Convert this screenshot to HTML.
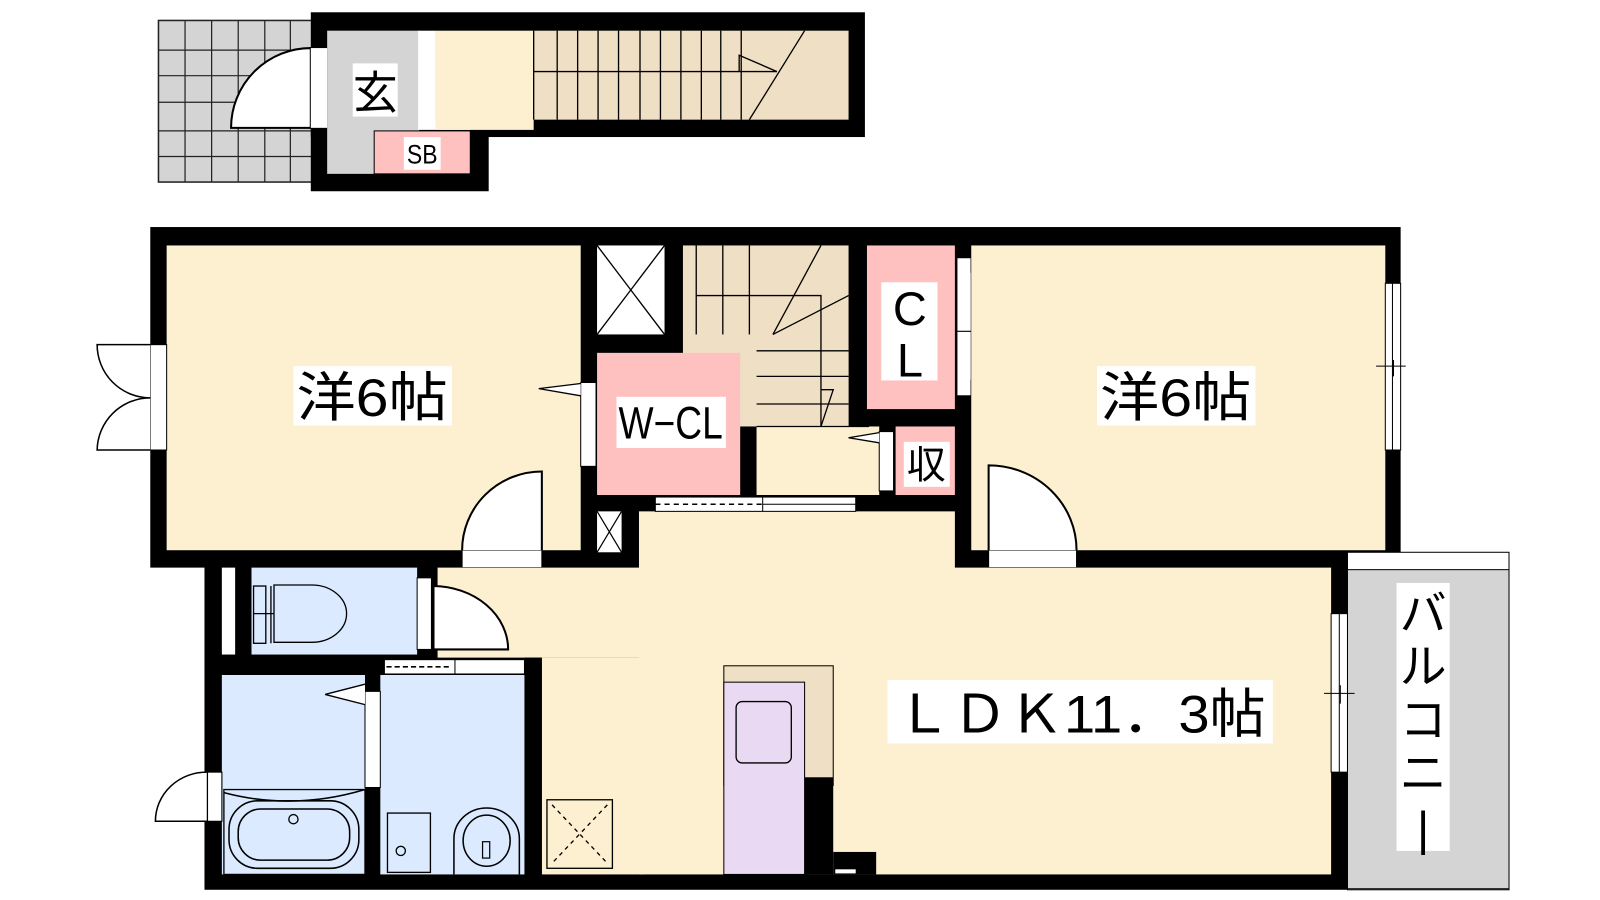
<!DOCTYPE html>
<html><head><meta charset="utf-8"><style>
html,body{margin:0;padding:0;background:#fff;width:1600px;height:900px;overflow:hidden}
text{font-family:"Liberation Sans","Noto Sans CJK JP",sans-serif;fill:#000}
</style></head><body>
<svg width="1600" height="900" viewBox="0 0 1565 880" preserveAspectRatio="none" xmlns="http://www.w3.org/2000/svg">
<!-- tile grid -->
<g>
<rect x="155" y="20" width="150" height="158" fill="#d4d4d4" stroke="#222" stroke-width="1.5"/>
<g stroke="#222" stroke-width="1.2">
<line x1="181" y1="20" x2="181" y2="178"/><line x1="207" y1="20" x2="207" y2="178"/><line x1="233" y1="20" x2="233" y2="178"/><line x1="259" y1="20" x2="259" y2="178"/><line x1="284" y1="20" x2="284" y2="178"/>
<line x1="155" y1="49" x2="305" y2="49"/><line x1="155" y1="74" x2="305" y2="74"/><line x1="155" y1="100" x2="305" y2="100"/><line x1="155" y1="128" x2="305" y2="128"/><line x1="155" y1="153" x2="305" y2="153"/>
</g>
<path d="M304 125 L226 125 A78 78 0 0 1 304 47 Z" fill="#fff" stroke="#000" stroke-width="2"/>
</g>
<!-- top block -->
<rect x="304" y="12" width="542" height="122" fill="#000"/>
<rect x="304" y="120" width="174" height="67" fill="#000"/>
<rect x="320" y="30" width="90" height="140" fill="#d4d4d4"/>
<rect x="409" y="30" width="17" height="97" fill="#fff"/>
<rect x="426" y="30" width="96" height="97" fill="#fdf0d0"/>
<rect x="522" y="30" width="308" height="87" fill="#efdfc4"/>
<rect x="426" y="117" width="34" height="10" fill="#fdf0d0"/>
<rect x="366" y="128" width="94" height="42" fill="#ffc0c0" stroke="#000" stroke-width="1"/>
<rect x="304" y="47" width="16" height="78" fill="#fff"/>
<g stroke="#000" stroke-width="1.3">
<line x1="522" y1="30" x2="522" y2="117"/><line x1="545" y1="30" x2="545" y2="117"/><line x1="565" y1="30" x2="565" y2="117"/><line x1="585" y1="30" x2="585" y2="117"/><line x1="605" y1="30" x2="605" y2="117"/><line x1="626" y1="30" x2="626" y2="117"/><line x1="646" y1="30" x2="646" y2="117"/><line x1="666" y1="30" x2="666" y2="117"/><line x1="686" y1="30" x2="686" y2="117"/><line x1="705" y1="30" x2="705" y2="117"/><line x1="725" y1="30" x2="725" y2="117"/>
<line x1="522" y1="70" x2="760" y2="70"/><line x1="733" y1="117" x2="787" y2="30"/>
<polyline points="723,70 723,54 760,70" fill="none"/>
</g>
<rect x="345" y="62" width="44" height="52" fill="#fff"/>
<text x="367" y="106" font-size="44" text-anchor="middle">玄</text>
<rect x="395" y="134" width="36" height="32" fill="#fff"/>
<text x="398" y="160" font-size="26" textLength="30" lengthAdjust="spacingAndGlyphs">SB</text>

<!-- main outer walls -->
<rect x="147" y="222" width="1223" height="333" fill="#000"/>
<rect x="200" y="540" width="1118" height="330" fill="#000"/>
<!-- left bedroom -->
<rect x="163" y="240" width="405" height="298" fill="#fdf0d0"/>
<!-- X box -->
<rect x="584" y="240" width="66" height="87" fill="#fff"/>
<path d="M584 240 L650 327 M650 240 L584 327" stroke="#000" stroke-width="1.3"/>
<!-- stairs -->
<rect x="668" y="240" width="162" height="177" fill="#efdfc4"/>
<rect x="740" y="417" width="120" height="67" fill="#fdf0d0"/>
<rect x="740" y="345" width="90" height="72" fill="#efdfc4"/>
<g stroke="#000" stroke-width="1.3" fill="none">
<line x1="681" y1="240" x2="681" y2="327"/><line x1="707" y1="240" x2="707" y2="327"/><line x1="733" y1="240" x2="733" y2="327"/>
<polyline points="681,289 803,289 803,417"/>
<line x1="756" y1="327" x2="803" y2="240"/><line x1="756" y1="327" x2="830" y2="289"/>
<line x1="740" y1="343" x2="830" y2="343"/><line x1="740" y1="368" x2="830" y2="368"/><line x1="740" y1="395" x2="830" y2="395"/><line x1="740" y1="417" x2="850" y2="417"/>
<polyline points="803,381 815,381 803,417"/>
</g>
<!-- W-CL -->
<rect x="584" y="345" width="140" height="139" fill="#ffc0c0"/>
<rect x="568" y="374" width="15" height="82" fill="#fff" stroke="#000" stroke-width="1"/>
<path d="M568 375 L527 380 L568 387" fill="#fff" stroke="#000" stroke-width="1.3"/>
<rect x="603" y="388" width="107" height="50" fill="#fff"/>
<text x="605" y="429" font-size="44" textLength="102" lengthAdjust="spacingAndGlyphs">W−CL</text>
<!-- CL -->
<rect x="848" y="240" width="86" height="160" fill="#ffc0c0"/>
<rect x="862" y="276" width="55" height="96" fill="#fff"/>
<text x="890" y="318" font-size="46" text-anchor="middle">C</text>
<text x="890" y="368" font-size="46" text-anchor="middle">L</text>
<rect x="936" y="252" width="14" height="72" fill="#fff" stroke="#000" stroke-width="1"/>
<rect x="936" y="324" width="14" height="63" fill="#fff" stroke="#000" stroke-width="1"/>
<path d="M950 252 L985 258 L950 266 Z M950 372 L985 378 L950 386 Z" fill="#fff" stroke="#000" stroke-width="1.3"/>
<!-- 収 -->
<rect x="876" y="417" width="58" height="67" fill="#ffc0c0"/>
<rect x="860" y="422" width="14" height="58" fill="#fff" stroke="#000" stroke-width="1"/>
<path d="M860 423 L830 428 L860 433" fill="#fff" stroke="#000" stroke-width="1.3"/>
<rect x="884" y="432" width="45" height="44" fill="#fff"/>
<text x="906" y="468" font-size="38" text-anchor="middle">収</text>
<!-- sliding door area -->
<rect x="625" y="500" width="309" height="60" fill="#fdf0d0"/>
<rect x="641" y="486" width="196" height="14" fill="#fff" stroke="#000" stroke-width="1"/>
<line x1="641" y1="493" x2="746" y2="493" stroke="#000" stroke-width="1.5" stroke-dasharray="5 4"/>
<line x1="746" y1="486" x2="746" y2="500" stroke="#000"/>
<line x1="746" y1="493" x2="837" y2="493" stroke="#000"/>
<!-- small x -->
<rect x="584" y="500" width="24" height="40" fill="#fff"/>
<path d="M584 500 L608 540 M608 500 L584 540" stroke="#000" stroke-width="1.2"/>
<!-- right bedroom -->
<rect x="950" y="240" width="405" height="298" fill="#fdf0d0"/>
<rect x="1355" y="277" width="15" height="163" fill="#fff" stroke="#000" stroke-width="1"/>
<line x1="1362" y1="277" x2="1362" y2="440" stroke="#000"/>
<line x1="1346" y1="358" x2="1375" y2="358" stroke="#000"/>
<line x1="1363" y1="352" x2="1363" y2="368" stroke="#000"/>
<!-- right bedroom door -->
<rect x="967" y="538" width="86" height="17" fill="#fff" stroke="#000" stroke-width="1"/>
<path d="M967 538 L967 455 A86 83 0 0 1 1053 538" fill="#fff" stroke="#000" stroke-width="2"/>
<!-- left bedroom door -->
<rect x="452" y="538" width="78" height="17" fill="#fff" stroke="#000" stroke-width="1"/>
<path d="M530 538 L530 461 A78 77 0 0 0 452 538" fill="#fff" stroke="#000" stroke-width="2"/>
<!-- left window -->
<rect x="147" y="337" width="16" height="103" fill="#fff" stroke="#000" stroke-width="1"/>
<path d="M147 337 L95 337 A52 52 0 0 0 147 389" fill="#fff" stroke="#000" stroke-width="1.5"/>
<path d="M147 440 L95 440 A52 52 0 0 1 147 389" fill="#fff" stroke="#000" stroke-width="1.5"/>
<!-- LDK -->
<rect x="625" y="555" width="677" height="300" fill="#fdf0d0"/>
<rect x="428" y="555" width="200" height="88" fill="#fdf0d0"/>
<rect x="530" y="643" width="100" height="212" fill="#fdf0d0"/>
<!-- balcony -->
<rect x="1318" y="540" width="158" height="330" fill="#fff" stroke="#000" stroke-width="1"/>
<rect x="1318" y="557" width="158" height="312" fill="#d4d4d4" stroke="#000" stroke-width="1"/>
<rect x="1302" y="600" width="16" height="155" fill="#fff" stroke="#000" stroke-width="1"/>
<line x1="1310" y1="600" x2="1310" y2="755" stroke="#000"/>
<line x1="1295" y1="678" x2="1325" y2="678" stroke="#000"/>
<line x1="1311" y1="670" x2="1311" y2="688" stroke="#000"/>
<rect x="1366" y="570" width="52" height="262" fill="#fff"/>
<text font-size="46" text-anchor="middle"><tspan x="1392" y="616">バ</tspan><tspan x="1392" y="668">ル</tspan><tspan x="1392" y="720">コ</tspan><tspan x="1392" y="772">ニ</tspan><tspan x="1392" y="826">|</tspan></text>
<!-- toilet -->
<rect x="217" y="555" width="13" height="85" fill="#fff"/>
<rect x="246" y="555" width="162" height="85" fill="#dbeafe"/>
<g fill="none" stroke="#000" stroke-width="1.3">
<rect x="248" y="573" width="12" height="56"/>
<path d="M265 573 L265 629"/>
<path d="M268 572 L305 572 A34 28 0 0 1 305 628 L268 628 Z"/>
<path d="M268 600 L248 600"/>
</g>
<!-- toilet door -->
<rect x="408" y="565" width="14" height="70" fill="#fff" stroke="#000" stroke-width="1"/>
<path d="M424 573 A74 62 0 0 1 497 635 L424 635 Z" fill="#fff" stroke="#000" stroke-width="2"/>
<!-- bath -->
<rect x="217" y="660" width="140" height="195" fill="#dbeafe"/>
<rect x="372" y="660" width="141" height="195" fill="#dbeafe"/>
<rect x="357" y="676" width="15" height="94" fill="#fff" stroke="#000" stroke-width="1"/>
<path d="M357 669 L318 679 L357 689" fill="#fff" stroke="#000" stroke-width="1.3"/>
<path d="M219 775 Q287 793 357 772" fill="none" stroke="#000" stroke-width="1.5"/>
<rect x="219" y="772" width="138" height="83" fill="none" stroke="#000" stroke-width="1.3"/>
<rect x="203" y="755" width="14" height="48" fill="#fff" stroke="#000" stroke-width="1"/>
<path d="M203 755 A50 48 0 0 0 152 803 L203 803 Z" fill="#fff" stroke="#000" stroke-width="1.5"/>
<rect x="203" y="755" width="14" height="48" fill="#fff" stroke="#000" stroke-width="1"/>
<rect x="224" y="783" width="127" height="66" rx="28" fill="none" stroke="#000" stroke-width="1.5"/>
<rect x="233" y="791" width="109" height="50" rx="22" fill="none" stroke="#000" stroke-width="1.5"/>
<circle cx="287" cy="801" r="4.5" fill="none" stroke="#000" stroke-width="1.3"/>
<!-- washroom -->
<rect x="376" y="645" width="137" height="14" fill="#fff" stroke="#000" stroke-width="1"/>
<line x1="378" y1="652" x2="440" y2="652" stroke="#000" stroke-width="1.5" stroke-dasharray="5 3"/>
<line x1="445" y1="645" x2="445" y2="659" stroke="#000"/>
<rect x="379" y="795" width="42" height="58" fill="none" stroke="#000" stroke-width="1.3"/>
<circle cx="392" cy="832" r="4.5" fill="none" stroke="#000" stroke-width="1.3"/>
<path d="M444 855 L444 820 A32 30 0 0 1 508 820 L508 855" fill="none" stroke="#000" stroke-width="1.5"/>
<ellipse cx="476" cy="822" rx="23" ry="25" fill="none" stroke="#000" stroke-width="1.5"/>
<rect x="472" y="823" width="7" height="16" fill="#dbeafe" stroke="#000" stroke-width="1.2"/>
<rect x="513" y="643" width="17" height="212" fill="#000"/>
<!-- floor hatch -->
<rect x="535" y="782" width="64" height="67" fill="#fdf0d0" stroke="#000" stroke-width="1.3"/>
<path d="M540 787 L594 844 M594 787 L540 844" stroke="#000" stroke-width="1.3" stroke-dasharray="4 4"/>
<!-- kitchen -->
<rect x="708" y="651" width="107" height="117" fill="#efdfc4" stroke="#000" stroke-width="1"/>
<rect x="708" y="667" width="79" height="188" fill="#ead9f2" stroke="#000" stroke-width="1"/>
<rect x="720" y="686" width="54" height="60" rx="6" fill="none" stroke="#000" stroke-width="1.3"/>
<rect x="787" y="760" width="28" height="95" fill="#000"/>
<rect x="815" y="833" width="42" height="22" fill="#000"/>
<rect x="817" y="850" width="20" height="4" fill="#fff"/>
<!-- labels -->
<rect x="287" y="358" width="155" height="58" fill="#fff"/>
<text x="290" y="407" font-size="52" textLength="148" lengthAdjust="spacingAndGlyphs">洋6帖</text>
<rect x="1073" y="358" width="155" height="58" fill="#fff"/>
<text x="1076" y="407" font-size="52" textLength="148" lengthAdjust="spacingAndGlyphs">洋6帖</text>
<rect x="868" y="665" width="377" height="62" fill="#fff"/>
<text x="876" y="716" font-size="52" textLength="362" lengthAdjust="spacingAndGlyphs">ＬＤＫ11．3帖</text>
</svg>
</body></html>
